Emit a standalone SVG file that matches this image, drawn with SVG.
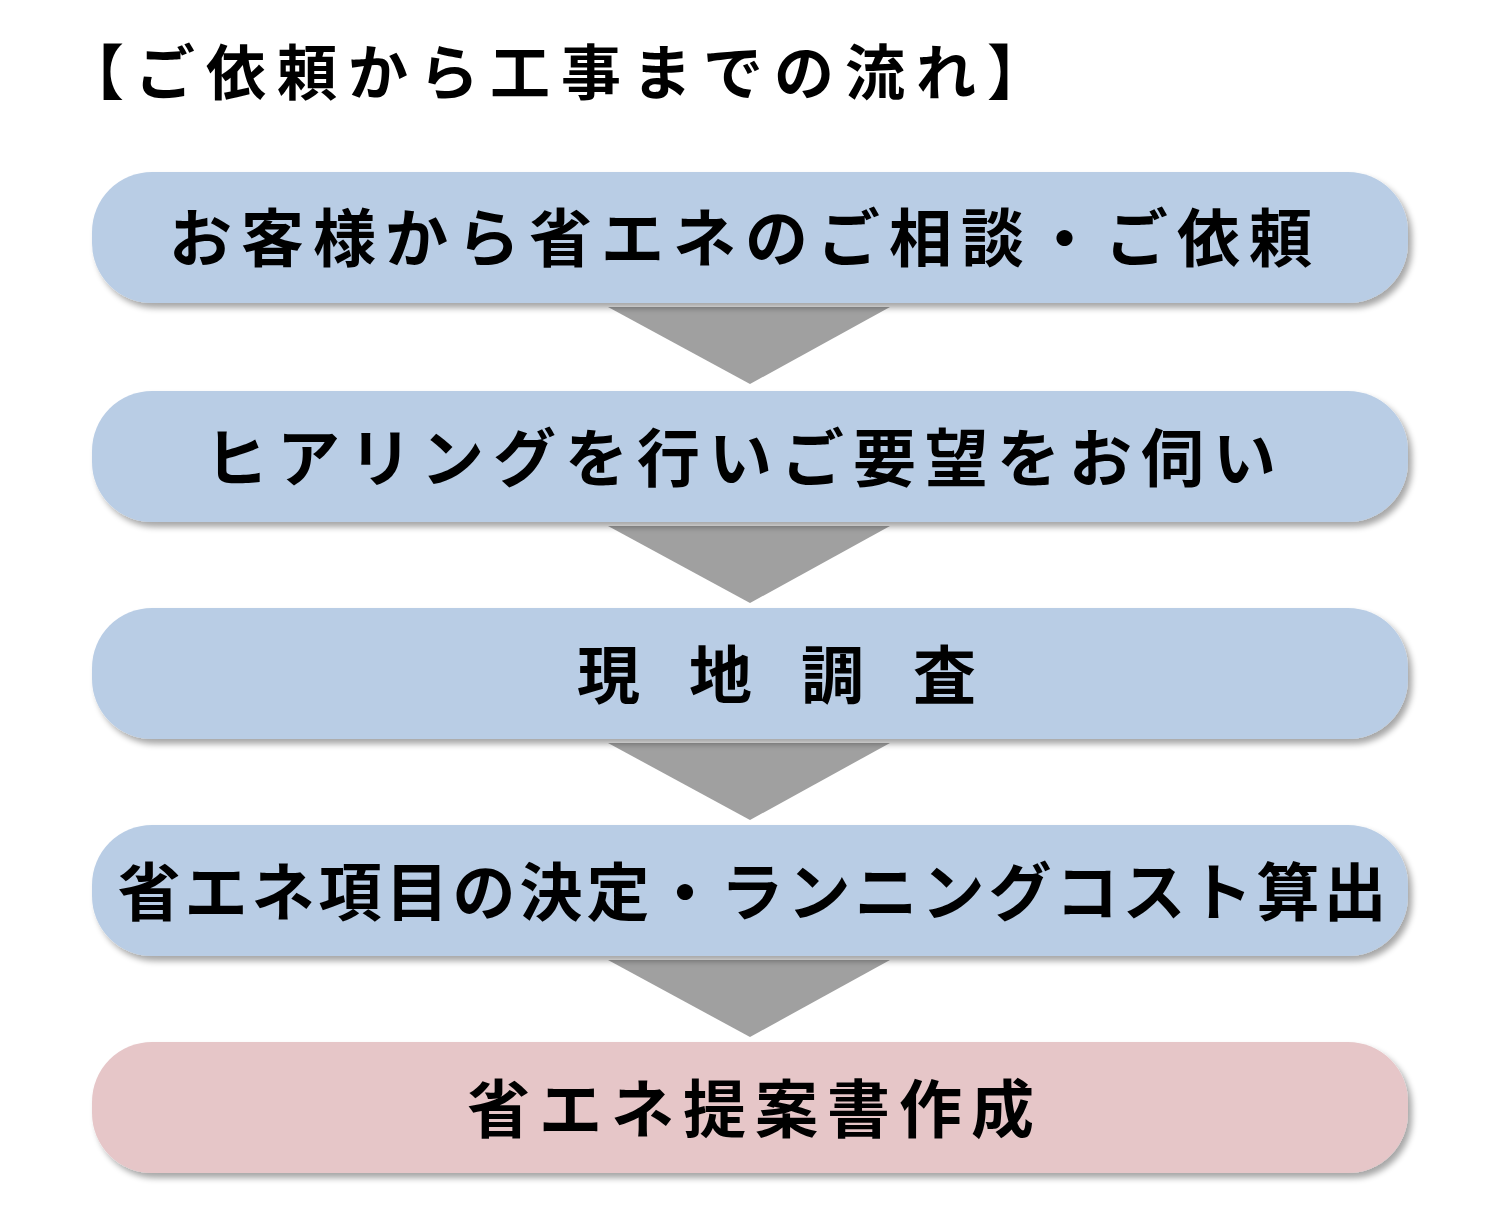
<svg xmlns="http://www.w3.org/2000/svg" width="1500" height="1215" viewBox="0 0 1500 1215">
<defs>
<filter id="sh" x="-5%" y="-20%" width="110%" height="140%">
<feGaussianBlur in="SourceAlpha" stdDeviation="3"/>
<feOffset dx="4" dy="5" result="b"/>
<feComponentTransfer><feFuncA type="linear" slope="0.35"/></feComponentTransfer>
<feMerge><feMergeNode/><feMergeNode in="SourceGraphic"/></feMerge>
</filter>
<style>
.box{fill:#B9CDE5;filter:url(#sh)}
.pink{fill:#E6C6C8;filter:url(#sh)}
.arr{fill:#A0A0A0}
.t{font-family:"Noto Sans CJK JP","Noto Sans CJK SC",sans-serif;font-weight:bold;font-size:63px;fill:#000;text-anchor:middle;letter-spacing:9px}
.title{font-family:"Noto Sans CJK JP","Noto Sans CJK SC",sans-serif;font-weight:bold;font-size:60px;fill:#000;letter-spacing:11px}
</style>
</defs>
<rect width="1500" height="1215" fill="#fff"/>
<text class="title" x="64" y="95">【ご依頼から工事までの流れ】</text>
<g id="connectors">
<polygon class="arr" points="608,307 890,307 750,384"/>
<polygon class="arr" points="608,526 890,526 750,603"/>
<polygon class="arr" points="608,743 890,743 750,820"/>
<polygon class="arr" points="608,960 890,960 750,1037"/>
</g>
<g id="n1"><rect class="box" x="92" y="172" width="1316" height="131" rx="60"/><text class="t" x="745" y="261">お客様から省エネのご相談・ご依頼</text></g>
<g id="n2"><rect class="box" x="92" y="391" width="1316" height="131" rx="60"/><text class="t" x="745" y="481">ヒアリングを行いご要望をお伺い</text></g>
<g id="n3"><rect class="box" x="92" y="608" width="1316" height="131" rx="60"/><text class="t" x="577 689 801 913" y="698" style="letter-spacing:0;text-anchor:start">現地調査</text></g>
<g id="n4"><rect class="box" x="92" y="825" width="1316" height="131" rx="60"/><text class="t" x="754" y="915" style="letter-spacing:4px">省エネ項目の決定・ランニングコスト算出</text></g>
<g id="n5"><rect class="pink" x="92" y="1042" width="1316" height="131" rx="60"/><text class="t" x="755" y="1132">省エネ提案書作成</text></g>
</svg>
